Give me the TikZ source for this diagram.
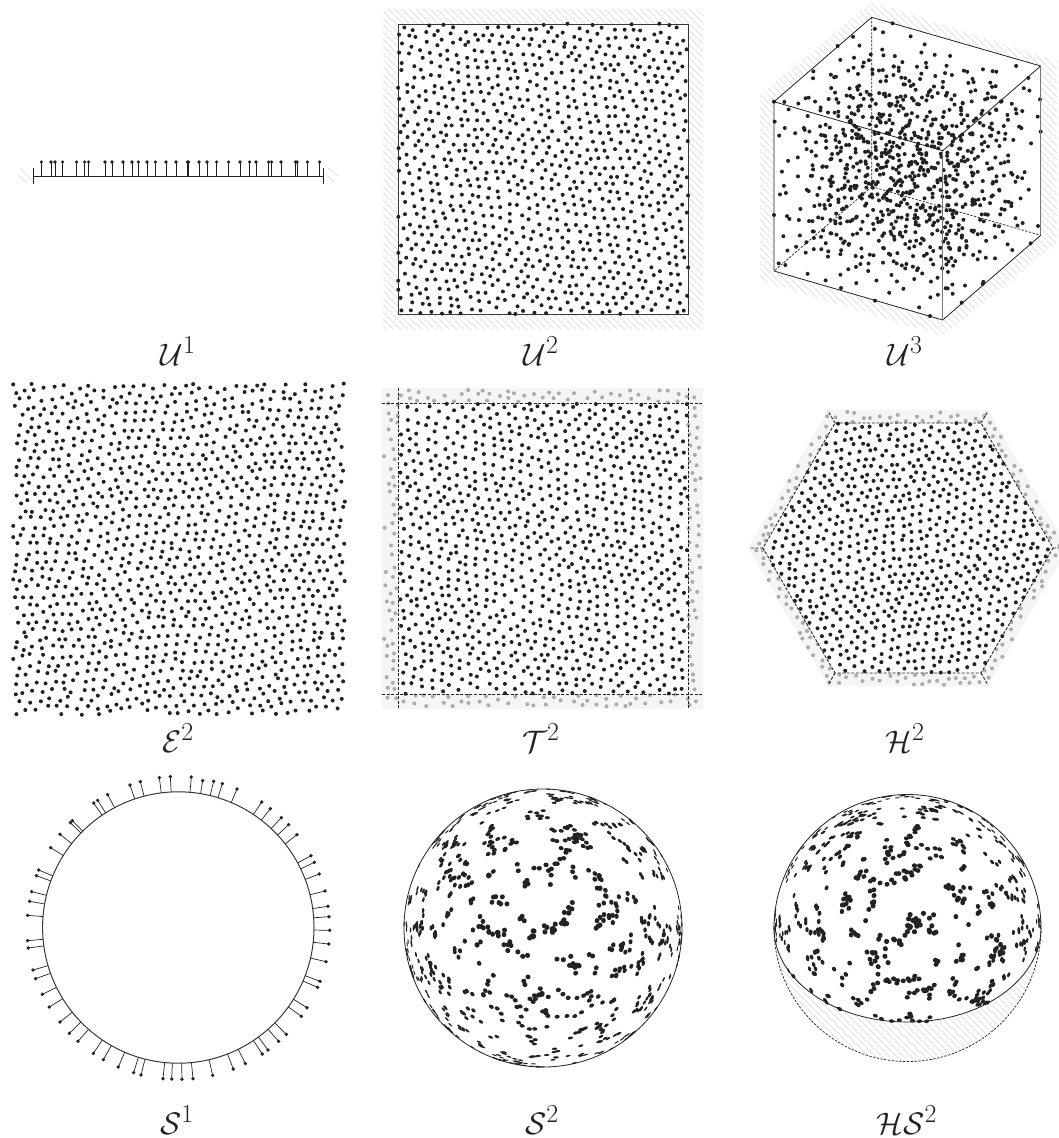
\documentclass[tikz,border=0pt]{standalone}
\definecolor{ink}{HTML}{222222}
\definecolor{soft}{HTML}{F5F5F5}
\definecolor{dotgray}{HTML}{ABABAB}
\definecolor{hatchgray}{HTML}{DADADA}
\definecolor{edgegray}{HTML}{777777}
\tikzset{
  blackdot/.style={fill=ink},
  graydot/.style={fill=dotgray},
  hatchline/.style={draw=hatchgray,line width=0.6pt},
  frame/.style={draw=ink!90!white,line width=1pt,line join=miter},
  thinframe/.style={draw=ink,line width=0.8pt},
  dashline/.style={draw=ink,line width=0.9pt,dash pattern=on 3pt off 1.6pt},
  finedash/.style={draw=ink,line width=0.7pt,dash pattern=on 2.4pt off 1.4pt},
  stemline/.style={draw=ink,line width=0.7pt},
  lbl/.style={font=\Huge,inner sep=0pt,text=ink,scale=1.25}
}
\newcommand\hatchall{\draw[hatchline] foreach \k in {-1140,-1133,...,1060} {(\k,0) -- ++(1138,1138)};}
\newcommand\scatterpts[5]{%
 \foreach \i in {-#3,...,#3}{\foreach \j in {-#3,...,#3}{%
  \pgfmathsetmacro\uu{#4*(\i+.5*mod(abs(\j),2))}%
  \pgfmathsetmacro\vv{#4*.866*\j}%
  \pgfmathsetmacro\px{#1+\uu*cos(#5)-\vv*sin(#5)+4*sin(\vv*3.1+40)+#4*.23*rand}%
  \pgfmathsetmacro\py{#2+\uu*sin(#5)+\vv*cos(#5)+4*sin(\uu*2.7+10)+#4*.23*rand}%
  \pgfmathtruncatemacro\cl{\testexpr}%
  \ifnum\cl=1 \fill[blackdot] (\px,\py) circle[radius=2pt];\fi
  \ifnum\cl=2 \fill[graydot] (\px,\py) circle[radius=2pt];\fi
 }}}
% short chains of dots on a sphere, seeded evenly over the front: cx cy R seeds
\newcommand\spherepts[4]{%
 \foreach \ch in {1,...,#4}{%
  \pgfmathsetmacro\zz{min(.999,(\ch-.5)/#4+.03*rand)}%
  \pgfmathsetmacro\thet{10*mod(\ch*13.7508,36)+12*rand}%
  \pgfmathsetmacro\sn{sqrt(max(0,1-\zz*\zz))}%
  \pgfmathsetmacro\xx{\sn*cos(\thet)}%
  \pgfmathsetmacro\yy{\sn*sin(\thet)}%
  \global\let\gx\xx \global\let\gy\yy \global\let\gz\zz
  \gdef\hx{0}\gdef\hy{0}\gdef\hz{0}%
  \pgfmathtruncatemacro\len{1+int(rnd*6)}%
  \foreach \st in {1,...,\len}{%
   \pgfmathsetmacro\ra{rand}\pgfmathsetmacro\rb{rand}\pgfmathsetmacro\rc{rand}%
   \pgfmathsetmacro\rl{max(0.05,sqrt(\ra*\ra+\rb*\rb+\rc*\rc))}%
   \pgfmathsetmacro\nx{.55*\hx+.7*\ra/\rl}%
   \pgfmathsetmacro\ny{.55*\hy+.7*\rb/\rl}%
   \pgfmathsetmacro\nz{.55*\hz+.7*\rc/\rl}%
   \pgfmathsetmacro\qx{\gx+.06*\nx}%
   \pgfmathsetmacro\qy{\gy+.06*\ny}%
   \pgfmathsetmacro\qz{\gz+.06*\nz}%
   \pgfmathsetmacro\ql{sqrt(\qx*\qx+\qy*\qy+\qz*\qz)}%
   \pgfmathsetmacro\xx{\qx/\ql}\pgfmathsetmacro\yy{\qy/\ql}\pgfmathsetmacro\zz{\qz/\ql}%
   \global\let\gx\xx \global\let\gy\yy \global\let\gz\zz
   \global\let\hx\nx \global\let\hy\ny \global\let\hz\nz
   \pgfmathtruncatemacro\cl{\keepexpr}%
   \ifnum\cl=1
    \pgfmathsetmacro\ang{atan2(\yy,\xx)}%
    \pgfmathsetmacro\rr{2.6*max(\zz,.22)}%
    \fill[blackdot,shift={(#1+#3*\xx,#2-#3*\yy)},rotate=\ang] (0,0) ellipse[x radius=\rr pt,y radius=2.6pt];%
   \fi
  }%
 }}
\newcommand\stemdots[3]{% offset x, offset y, list in 3x zoom px
 \foreach \X/\Y in {#3}{%
  \pgfmathsetmacro\ex{#1+\X/3}\pgfmathsetmacro\ey{#2+\Y/3}%
  \pgfmathsetmacro\ang{atan2(\ey-927.5,\ex-178.3)}%
  \draw[stemline] (\ex,\ey) -- ({178.3+135.7*cos(\ang)},{927.5+135.7*sin(\ang)});
  \fill[blackdot] (\ex,\ey) circle[radius=1.9pt];
 }}
\begin{document}
\begin{tikzpicture}[x=1pt,y=-1pt]
\useasboundingbox (0,0) rectangle (1058,1138);
\pgfmathsetseed{4242}

% ---------- U1
\coordinate (u1a) at (33,176);
\coordinate (u1b) at (323,176);
\draw[hatchline] (20.7,168)--(33,182) (18,175)--(26.7,183) (328.5,168)--(338.3,176) (325,173.3)--(334.3,182.7);
\draw[thinframe] (u1a) -- (u1b);
\draw[thinframe] (33,168.3) -- (33,184) (323,168.3) -- (323,184);
\foreach \X in {124,153,165,188,230,254,266,315,336,369,396,415,441,466,498,528,562,566,597,621,650,686,720,749,768,806,815,843,886,891,922,959}{%
  \pgfmathsetmacro\ex{\X/3}%
  \draw[stemline] (\ex,176) -- (\ex,162);
  \fill[blackdot] (\ex,162) circle[radius=1.8pt];
}
\node[lbl] (labU1) at (178,351) {$\mathcal{U}^1$};

% ---------- U2
\begin{scope}
 \clip (383,9) rectangle (703,329);
 \hatchall
\end{scope}
\fill[white] (398,24) rectangle (688,314);
\draw[frame] (398,24) rectangle (688,314);
\def\testexpr{(\px>=397.5)*(\px<=688.5)*(\py>=23.5)*(\py<=314.5)}
\scatterpts{543}{169}{20}{10}{13}
\node[lbl] (labU2) at (541,351) {$\mathcal{U}^2$};

% ---------- U3
\begin{scope}
 \clip (871.7,2) -- (1057,61) -- (1057,243) -- (943,336) -- (760,281) -- (760,95) -- cycle;
 \hatchall
\end{scope}
\coordinate (cb) at (871.7,186.7);
\coordinate (ct) at (871.7,17.3);
\coordinate (crt) at (1040.7,66);
\coordinate (cft) at (942.7,150.7);
\coordinate (clt) at (774,101.7);
\coordinate (clb) at (774,271);
\coordinate (cfb) at (942.7,320);
\coordinate (crb) at (1040.7,235.3);
\fill[white] (ct) -- (crt) -- (crb) -- (cfb) -- (clb) -- (clt) -- cycle;
\draw[finedash] (cb) -- (ct) (cb) -- (clb) (cb) -- (crb);
\foreach \ci in {0,...,9}{\foreach \cj in {0,...,9}{\foreach \ck in {0,...,8}{%
  \pgfmathsetmacro\ca{(\ci+.5+.48*rand)/10}\pgfmathsetmacro\cc{(\cj+.5+.48*rand)/10}\pgfmathsetmacro\cd{(\ck+.5+.48*rand)/9}%
  \fill[blackdot] ({871.7-97.7*\ca+169*\cc},{186.7+84.3*\ca+48.6*\cc-169.3*\cd}) circle[radius=2pt];
}}}
\foreach \X/\Y in {398/70,233/138,160/214,42/305,44/365,42/645,243/864,345/902,510/948,605/908,668/852,812/730,840/298,842/395,833/350,834/678,56/790,76/795}{%
  \fill[blackdot] ({760+\X/3},{\Y/3}) circle[radius=2pt];
}
\draw[thinframe,line join=miter] (ct) -- (crt) (crb) -- (cfb) -- (clb) -- (clt) -- (ct) (clt) -- (cft) -- (crt);
\draw[draw=edgegray,line width=1.3pt] (cft) -- (cfb) (crt) -- (crb);
\node[lbl] (labU3) at (905,351) {$\mathcal{U}^3$};

% ---------- E2
\def\testexpr{(\px>=13)*(\px<=345)*(\py>=383)*(\py<=715)}
\scatterpts{179}{549}{23}{10}{-9}
\node[lbl] (labE2) at (178,738) {$\mathcal{E}^2$};

% ---------- T2
\fill[soft] (382,388) rectangle (703,709);
\fill[white] (398,403) rectangle (688,694);
\def\testexpr{(\px>=398)*(\px<=688)*(\py>=403)*(\py<=694)+2*(1-(\px>=398)*(\px<=688)*(\py>=403)*(\py<=694))*(\px>=384)*(\px<=701)*(\py>=390)*(\py<=707)}
\scatterpts{543}{548}{22}{10}{21}
\draw[dashline] (398,388) -- (398,709) (688,388) -- (688,709) (382,403) -- (703,403) (382,694) -- (703,694);
\node[lbl] (labT2) at (541,738) {$\mathcal{T}^2$};

% ---------- H2
\coordinate (h1) at (835,423);
\coordinate (h2) at (981,423);
\coordinate (h3) at (1053,548);
\coordinate (h4) at (981,673);
\coordinate (h5) at (835,673);
\coordinate (h6) at (763,548);
\fill[soft] (828,410) -- (988,410) -- (1068,548) -- (988,686) -- (828,686) -- (748,548) -- cycle;
\fill[white] (h1) -- (h2) -- (h3) -- (h4) -- (h5) -- (h6) -- cycle;
\def\insidehex{(abs(\py-548)<=125)*(abs(\px-908)+abs(\py-548)*.576<=145)}
\def\testexpr{\insidehex+2*(1-\insidehex)*(abs(\py-548)<=137)*(abs(\px-908)+abs(\py-548)*.576<=158)}
\scatterpts{908}{548}{20}{9.2}{-17}
\draw[dashline] (h1) -- (h2) -- (h3) -- (h4) -- (h5) -- (h6) -- cycle;
\draw[dashline] (h1) -- (828,411) (h2) -- (988,411) (h3) -- (1066,548) (h4) -- (988,685) (h5) -- (828,685) (h6) -- (749,548);
\node[lbl] (labH2) at (905,738) {$\mathcal{H}^2$};

% ---------- S1
\draw[frame] (178.3,927.5) circle[radius=135.7pt];
\stemdots{0}{780}{390/15,421/5,323/44,293/61,281/69,217/122,211/128,180/163,152/203,116/270,109/287,95/335,89/364,83/406,83/482,85/504,99/570,107/596,127/643,148/681,180/726,208/760,234/784,280/820,310/839,355/861,401/878,423/885,489/896,515/897,546/898,579/896,478/-7,511/-10,574/-9}
\stemdots{180}{780}{68/2,101/4,127/11,171/27,245/66,271/86,304/113,326/134,351/164,393/227,403/247,418/282,435/333,444/379,447/410,449/451,446/492,438/545,420/604,413/622,381/683,364/709,319/763,296/784,264/810,247/822,196/851,160/867,98/886}
\node[lbl] (labS1) at (177,1120) {$\mathcal{S}^1$};

% ---------- S2
\def\keepexpr{\zz>0}
\spherepts{543}{928}{139}{250}
\draw[thinframe] (543,928) circle[radius=139pt];
\node[lbl] (labS2) at (542,1120) {$\mathcal{S}^2$};

% ---------- HS2
\coordinate (hsl) at (774,928);
\coordinate (hsr) at (1041,928);
\begin{scope}
 \clip (hsl) arc[start angle=180,end angle=360,radius=133.5pt] -- cycle;
 \hatchall
\end{scope}
\fill[white] (hsl) arc[start angle=180,end angle=360,x radius=133.5pt,y radius=94pt] -- cycle;
\def\keepexpr{(\zz>0)*(\yy*.71+\zz*.704>0)}
\spherepts{907.5}{928.5}{133.5}{270}
\draw[thinframe] (hsl) arc[start angle=180,end angle=0,radius=133.5pt];
\draw[thinframe] (hsl) arc[start angle=180,end angle=360,x radius=133.5pt,y radius=94pt];
\draw[finedash] (hsl) arc[start angle=180,end angle=360,radius=133.5pt];
\node[lbl] (labHS2) at (907,1120) {$\mathcal{HS}^2$};
\end{tikzpicture}
\end{document}
